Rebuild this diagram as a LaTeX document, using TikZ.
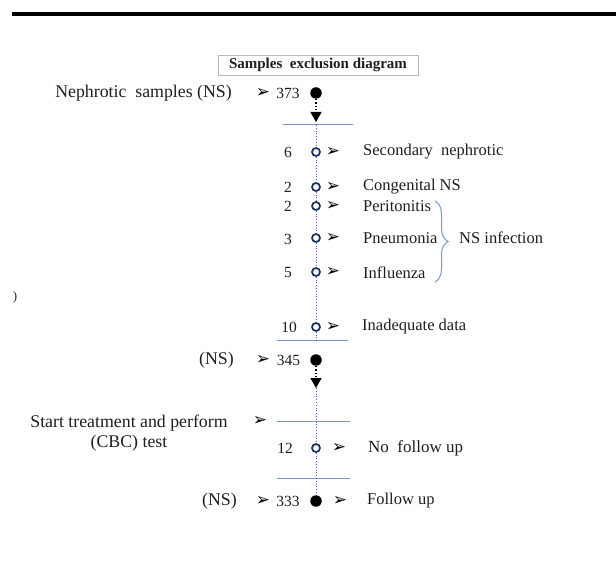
\documentclass[tikz,border=0pt]{standalone}
\usepackage{fontspec}
\setmainfont{Liberation Serif}
\newfontfamily\djv{DejaVu Sans}
\usetikzlibrary{arrows.meta,decorations.pathreplacing}
\definecolor{lineblue}{RGB}{125,150,200}
\definecolor{spineblue}{RGB}{70,100,165}
\definecolor{navy}{RGB}{25,45,95}
\definecolor{ink}{RGB}{30,30,30}
\begin{document}
\begin{tikzpicture}[x=1pt,y=-1pt,
  txt/.style={inner sep=0, text=ink, font=\fontsize{16.5}{19}\selectfont},
  big/.style={inner sep=0, text=ink, font=\fontsize{17.8}{20}\selectfont},
  num/.style={inner sep=0, text=ink, font=\fontsize{15.5}{18}\selectfont},
  ahead/.style={inner sep=0, text=black, font=\djv\fontsize{17}{18}\selectfont},
  fdot/.style={circle, fill=black, inner sep=0, minimum size=11.5pt},
  odot/.style={circle, draw=navy, line width=1.7pt, fill=white, inner sep=0, minimum size=8pt},
  hline/.style={draw=lineblue, line width=1pt},
  spine/.style={draw=spineblue, dotted, line width=0.8pt},
  darrow/.style={draw=black, dotted, line width=1.3pt, -{Triangle[width=11pt,length=10pt]}},
  bracestyle/.style={draw=lineblue, line width=1pt, decorate, decoration={brace, amplitude=13pt}},
]
\useasboundingbox (0,0) rectangle (616,585);
\fill[black] (12,12) rectangle (616,16.5);

\node[draw=gray!55, line width=0.6pt, minimum width=200pt, minimum height=20pt, inner sep=0,
      text=ink, font=\bfseries\fontsize{15}{18}\selectfont] (title) at (318,65) {Samples\ \ exclusion diagram};

% top block
\node[big, anchor=east] (nslab) at (232,93) {Nephrotic\ \ samples (NS)};
\node[ahead] (a0) at (263,93) {➢};
\node[num] (n373) at (288,93) {373};
\node[fdot] (c373) at (316,93) {};
\coordinate (t1) at (316,122);
\draw[darrow] (c373) -- (t1);

\coordinate (l1a) at (283,125);
\coordinate (l1b) at (353,125);
\coordinate (l1c) at (316,125);
\draw[hline] (l1a) -- (l1b);

% rows
\node[num] (k6) at (288,152) {6};
\node[odot] (o6) at (316,152) {};
\node[ahead] (h6) at (333,152) {➢};
\node[txt, anchor=west] (s6) at (363,152) {Secondary\ \ nephrotic};

\node[num] (k2a) at (288,187) {2};
\node[odot] (o2a) at (316,187) {};
\node[ahead] (h2a) at (333,187) {➢};
\node[txt, anchor=west] (s2a) at (363,187) {Congenital NS};

\node[num] (k2b) at (288,206) {2};
\node[odot] (o2b) at (316,206) {};
\node[ahead] (h2b) at (333,206) {➢};
\node[txt, anchor=west] (s2b) at (363,206) {Peritonitis};

\node[num] (k3) at (288,239) {3};
\node[odot] (o3) at (316,238) {};
\node[ahead] (h3) at (333,238) {➢};
\node[txt, anchor=west] (s3) at (363,238) {Pneumonia};

\node[num] (k5) at (288,273) {5};
\node[odot] (o5) at (316,272) {};
\node[ahead] (h5) at (333,272) {➢};
\node[txt, anchor=west] (s5) at (363,273) {Influenza};

\coordinate (b1) at (435,201);
\coordinate (b2) at (435,282);
\draw[bracestyle] (b1) -- (b2);
\node[txt, anchor=west] (inf) at (459,238) {NS infection};

\node[num] (k10) at (289,327) {10};
\node[odot] (o10) at (316,327) {};
\node[ahead] (h10) at (333,327) {➢};
\node[txt, anchor=west] (s10) at (362,327) {Inadequate data};

\coordinate (l2a) at (277,341);
\coordinate (l2b) at (348,341);
\coordinate (l2c) at (316,341);
\draw[hline] (l2a) -- (l2b);

\draw[spine] (l1c) -- (o6) -- (o2a) -- (o2b) -- (o3) -- (o5) -- (o10) -- (l2c);

% 345 block
\node[big, anchor=east] (ns2) at (234,360) {(NS)};
\node[ahead] (a2) at (263,360) {➢};
\node[num] (n345) at (288.5,360) {345};
\node[fdot] (c345) at (316,360) {};
\coordinate (t2) at (316,388);
\draw[darrow] (c345) -- (t2);

% treatment block
\node[big, align=center] (start) at (129,433) {Start treatment and perform\\[0pt](CBC) test};
\node[ahead] (a3) at (260,421) {➢};
\coordinate (l3a) at (277,421);
\coordinate (l3b) at (350,421);
\coordinate (l3c) at (316,421);
\draw[hline] (l3a) -- (l3b);

\node[num] (k12) at (285,448) {12};
\node[odot] (o12) at (316,448) {};
\node[ahead] (h12) at (339,448) {➢};
\node[big, anchor=west, font=\fontsize{17}{20}\selectfont] (s12) at (368,448) {No\ \ follow up};

\coordinate (l4a) at (277,478);
\coordinate (l4b) at (350,478);
\draw[hline] (l4a) -- (l4b);

\node[big, anchor=east] (ns3) at (237,501) {(NS)};
\node[ahead] (a4) at (263,501) {➢};
\node[num] (n333) at (288,501) {333};
\node[fdot] (c333) at (316,501) {};
\node[ahead] (h333) at (340,501) {➢};
\node[txt, anchor=west] (s333) at (367,501) {Follow up};

\draw[spine] (t2) -- (l3c) -- (o12) -- (c333);

% stray mark at left margin
\node[inner sep=0, text=gray!30!black, font=\fontsize{13}{14}\selectfont] (stray) at (15,297) {)};
\end{tikzpicture}
\end{document}
